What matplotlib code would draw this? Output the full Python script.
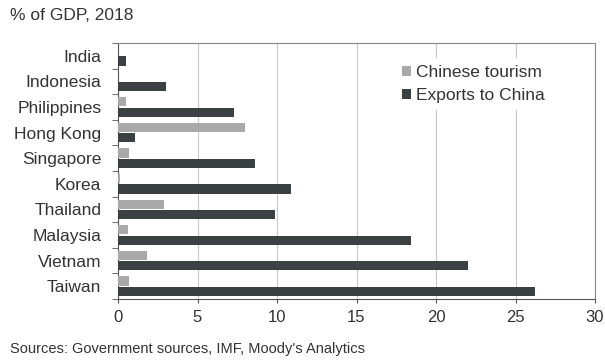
import matplotlib
matplotlib.use("Agg")
import matplotlib.pyplot as plt
import numpy as np

plt.rcParams['font.family'] = ['Liberation Sans', 'DejaVu Sans']

categories = ["India", "Indonesia", "Philippines", "Hong Kong", "Singapore",
              "Korea", "Thailand", "Malaysia", "Vietnam", "Taiwan"]
tourism = [0.0, 0.0, 0.5, 8.0, 0.7, 0.1, 2.9, 0.6, 1.8, 0.7]
exports = [0.5, 3.0, 7.3, 1.1, 8.6, 10.9, 9.9, 18.4, 22.0, 26.2]
xticks = [0, 5, 10, 15, 20, 25, 30]

c_tour = "#a9a9a9"
c_exp = "#3b4042"

fig = plt.figure(figsize=(6.05, 3.6), dpi=100)
ax = fig.add_axes([118/605, 1-299/360, (595-118)/605, (299-43)/360])

y = np.arange(len(categories))
h = 0.36
ax.barh(y - h/2 - 0.02, tourism, height=h, color=c_tour, label="Chinese tourism", zorder=3)
ax.barh(y + h/2 + 0.02, exports, height=h, color=c_exp, label="Exports to China", zorder=3)

ax.set_ylim(len(categories) - 0.5, -0.5)
ax.set_xlim(0, 30)
ax.set_yticks(y)
ax.set_yticklabels(categories, fontsize=12.5, color="#333333")
ax.set_yticks(np.arange(-0.5, len(categories), 1), minor=True)
ax.tick_params(axis='y', which='major', length=0, pad=12)
ax.tick_params(axis='y', which='minor', length=4, color="#555555")
ax.set_xticks(xticks)
ax.set_xticklabels([str(t) for t in xticks], fontsize=12, color="#333333")
ax.tick_params(axis='x', length=3, color="#555555", pad=5)
ax.grid(axis='x', color="#c8c8c8", linewidth=0.8, zorder=0)
for s in ax.spines.values():
    s.set_color("#888888")
    s.set_linewidth(0.8)
ax.spines['left'].set_color("#555555")
ax.spines['bottom'].set_color("#555555")

leg = ax.legend(loc="upper left", bbox_to_anchor=((395-118)/477, 1 - (58-43)/256),
                frameon=True, facecolor="white", edgecolor="none", framealpha=1,
                fancybox=False, fontsize=12.5, handlelength=0.5, handleheight=0.5,
                handletextpad=0.3, labelspacing=0.45, borderaxespad=0, borderpad=0.4)
leg.set_zorder(5)
for t in leg.get_texts():
    t.set_color("#333333")

fig.text(10/605, 1-15/360, "% of GDP, 2018", fontsize=12.5, color="#333333", va="center", ha="left")
fig.text(10/605, 1-349/360, "Sources: Government sources, IMF, Moody's Analytics",
         fontsize=10.5, color="#333333", va="center", ha="left")

fig.savefig("out.png", dpi=100)
